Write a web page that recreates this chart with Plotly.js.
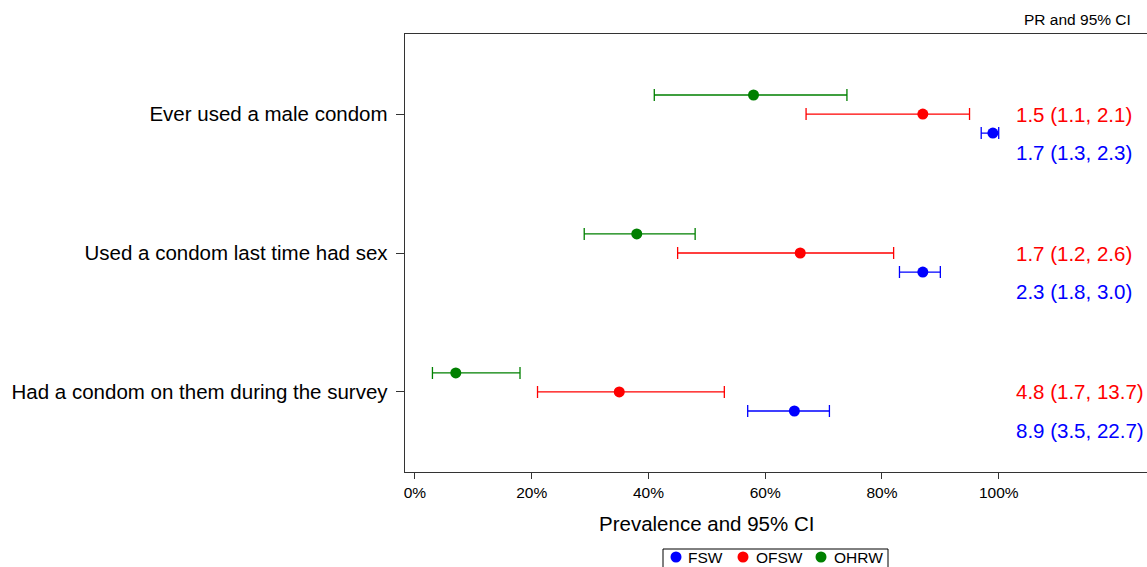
<!DOCTYPE html>
<html>
<head>
<meta charset="utf-8">
<script src="https://cdn.plot.ly/plotly-3.0.1.min.js"></script>
<style>body{margin:0;background:#fff}#chart{width:1147px;height:567px}</style>
</head>
<body>
<div id="chart"></div>
<script>
var categories = ["Ever used a male condom", "Used a condom last time had sex", "Had a condom on them during the survey"];
var seriesNames = ["FSW", "OFSW", "OHRW"];
var seriesColors = ["#0000ff", "#ff0000", "#008000"];
var fswEst = [99, 87, 65];
var fswLow = [97, 83, 57];
var fswHigh = [100, 90, 71];
var ofswEst = [87, 66, 35];
var ofswLow = [67, 45, 21];
var ofswHigh = [95, 82, 53];
var ohrwEst = [58, 38, 7];
var ohrwLow = [41, 29, 3];
var ohrwHigh = [74, 48, 18];
var ofswPR = ["1.5 (1.1, 2.1)", "1.7 (1.2, 2.6)", "4.8 (1.7, 13.7)"];
var fswPR = ["1.7 (1.3, 2.3)", "2.3 (1.8, 3.0)", "8.9 (3.5, 22.7)"];
var xTickVals = [0, 20, 40, 60, 80, 100];
var xTickText = ["0%", "20%", "40%", "60%", "80%", "100%"];

var FONT = 'Liberation Sans, Arial, Helvetica, sans-serif';
var W = 1147, H = 567, ML = 405, MR = 0, MT = 34, MB = 95;
var PW = W - ML - MR, PH = H - MT - MB;
function px2x(p){ return (p - ML) / PW; }
function px2y(p){ return (H - MB - p) / PH; }

var offsets = [0.137, 0, -0.137]; // FSW, OFSW, OHRW
var est = [fswEst, ofswEst, ohrwEst];
var low = [fswLow, ofswLow, ohrwLow];
var high = [fswHigh, ofswHigh, ohrwHigh];
var pos = categories.map(function(c, i){ return i + 1; });

var traces = [];
for (var s = 0; s < 3; s++) {
  traces.push({
    type: 'scatter', mode: 'markers', name: seriesNames[s],
    x: est[s],
    y: pos.map(function(p){ return p + offsets[s]; }),
    marker: {color: seriesColors[s], size: 11},
    error_x: {
      type: 'data', symmetric: false,
      array: est[s].map(function(v, i){ return high[s][i] - v; }),
      arrayminus: est[s].map(function(v, i){ return v - low[s][i]; }),
      color: seriesColors[s], thickness: 1.3, width: 6
    },
    showlegend: false
  });
}

var annotations = [];
for (var i = 0; i < categories.length; i++) {
  annotations.push({x: 102.7, y: pos[i], xref: 'x', yref: 'y', text: ofswPR[i], showarrow: false, xanchor: 'left', yanchor: 'middle', font: {family: FONT, size: 20.5, color: '#ff0000'}});
  annotations.push({x: 102.7, y: pos[i] + 0.28, xref: 'x', yref: 'y', text: fswPR[i], showarrow: false, xanchor: 'left', yanchor: 'middle', font: {family: FONT, size: 20.5, color: '#0000ff'}});
}
annotations.push({x: 1, y: 1, xref: 'paper', yref: 'paper', xshift: -14, yshift: 4, text: 'PR and 95% CI', showarrow: false, xanchor: 'right', yanchor: 'bottom', font: {family: FONT, size: 15.5, color: '#000'}});
annotations.push({x: 50, y: 0, xref: 'x', yref: 'paper', yshift: -51, text: 'Prevalence and 95% CI', showarrow: false, xanchor: 'center', yanchor: 'middle', font: {family: FONT, size: 20.5, color: '#000'}});

// manual legend (box, markers, labels)
var legMarkerPx = [676, 743, 821];
var legTextPx = [686, 754, 832];
var legY = 557;
var shapes = [{
  type: 'rect', xref: 'paper', yref: 'paper',
  x0: px2x(663), x1: px2x(888), y0: px2y(549), y1: px2y(585),
  line: {color: '#000', width: 1}, fillcolor: '#fff', layer: 'above'
}];
for (var k = 0; k < seriesNames.length; k++) {
  shapes.push({
    type: 'circle', xref: 'paper', yref: 'paper', xsizemode: 'pixel', ysizemode: 'pixel',
    xanchor: px2x(legMarkerPx[k]), yanchor: px2y(legY),
    x0: -5.5, x1: 5.5, y0: -5.5, y1: 5.5,
    fillcolor: seriesColors[k], line: {width: 0}, layer: 'above'
  });
  annotations.push({x: px2x(legTextPx[k]), y: px2y(legY), xref: 'paper', yref: 'paper', text: seriesNames[k], showarrow: false, xanchor: 'left', yanchor: 'middle', font: {family: FONT, size: 15.5, color: '#000'}});
}

var layout = {
  width: W, height: H,
  margin: {l: ML, r: MR, t: MT, b: MB},
  paper_bgcolor: '#fff', plot_bgcolor: '#fff',
  font: {family: FONT, color: '#000'},
  showlegend: false,
  xaxis: {
    range: [-1.7, 125.4], tickvals: xTickVals, ticktext: xTickText,
    showgrid: false, zeroline: false, showline: true, mirror: true, linecolor: '#333', linewidth: 1.3,
    ticks: 'outside', ticklen: 6, tickcolor: '#333', tickfont: {size: 15.5}
  },
  yaxis: {
    range: [3.576, 0.424], tickvals: pos, ticktext: categories,
    showgrid: false, zeroline: false, showline: true, mirror: false, linecolor: '#333', linewidth: 1.3,
    ticks: 'outside', ticklen: 8, tickcolor: '#333', tickfont: {size: 20.5}, ticklabelstandoff: 4
  },
  shapes: shapes,
  annotations: annotations
};
Plotly.newPlot('chart', traces, layout, {displayModeBar: false, staticPlot: true});
</script>
</body>
</html>
